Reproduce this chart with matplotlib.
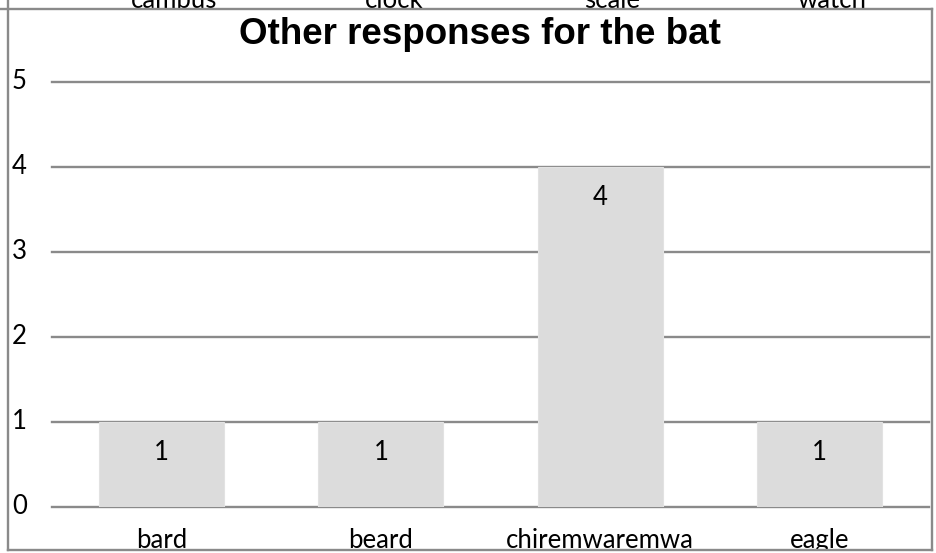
import matplotlib
matplotlib.use("Agg")
import matplotlib.pyplot as plt
from matplotlib.patches import Rectangle
from matplotlib.lines import Line2D
from matplotlib import transforms

# Chart data
categories = ["bard", "beard", "chiremwaremwa", "eagle"]
counts = [1, 1, 4, 1]
y_ticks = [0, 1, 2, 3, 4, 5]
title = "Other responses for the bat"
# Category labels of the chart above this one, partly visible at the top edge
prev_categories = ["cambus", "clock", "scale", "watch"]

W, H = 936, 553
DPI = 100
fig = plt.figure(figsize=(W / DPI, H / DPI), dpi=DPI)
fig.patch.set_facecolor("white")

def fx(px):
    return px / W

def fy(py):
    return 1 - py / H

GRID = "#8a8a8a"
BAR = "#dcdcdc"
LABEL_FONT = ["Lato", "DejaVu Sans"]
LABEL_SIZE = 18.5

# Plot area
ax_left, ax_right, ax_top, ax_bottom = 52, 929, 81.7, 506.7
ax = fig.add_axes([fx(ax_left), fy(ax_bottom), (ax_right - ax_left) / W,
                   (ax_bottom - ax_top) / H])
ax.set_xlim(-0.5, len(categories) - 0.5)
ax.set_ylim(0, 5)
ax.axis("off")

for t in y_ticks:
    ax.axhline(t, color=GRID, lw=1.7, zorder=1, clip_on=False)

x = list(range(len(categories)))
ax.bar(x, counts, width=0.57, color=BAR, edgecolor="#e2e2e2", lw=0.8, zorder=2)

for xi, v in zip(x, counts):
    ax.annotate(str(v), (xi, v), xytext=(0, -22.5), textcoords="offset points",
                ha="center", va="center", fontsize=LABEL_SIZE, family=LABEL_FONT,
                color="black", zorder=3)

# Y tick labels at the left edge of the frame
ytrans = transforms.blended_transform_factory(fig.transFigure, ax.transData)
for t in y_ticks:
    fig.text(fx(12), t, str(t), transform=ytrans, ha="left", va="center",
             fontsize=LABEL_SIZE, family=LABEL_FONT, color="black")

# Category labels below the axis, cut by the frame
xtrans = transforms.blended_transform_factory(ax.transData, fig.transFigure)
for xi, c in zip(x, categories):
    fig.text(xi, fy(548), c, transform=xtrans, ha="center", va="baseline",
             fontsize=LABEL_SIZE, family=LABEL_FONT, color="black")

# Previous chart's labels along the top edge
for cx, c in zip([174, 394, 612, 832], prev_categories):
    fig.text(fx(cx), fy(8.5), c, ha="center", va="baseline",
             fontsize=LABEL_SIZE, family=LABEL_FONT, color="black")

fig.text(fx(480), fy(35), title, ha="center", va="center", fontsize=26.5,
         fontweight="bold", family=["Liberation Sans", "DejaVu Sans"], color="black")

# White margin below the frame, then the frame itself
fig.add_artist(Rectangle((0, 0), 1, fy(551), transform=fig.transFigure,
                         facecolor="white", edgecolor="none", zorder=20))
frame_kw = dict(color=GRID, lw=1.7, transform=fig.transFigure, zorder=21)
fig.add_artist(Line2D([fx(0), fx(932)], [fy(9), fy(9)], **frame_kw))
fig.add_artist(Line2D([fx(8), fx(932)], [fy(550), fy(550)], **frame_kw))
fig.add_artist(Line2D([fx(8), fx(8)], [fy(0), fy(550)], **frame_kw))
fig.add_artist(Line2D([fx(932), fx(932)], [fy(9), fy(550)], **frame_kw))

fig.savefig("out.png", dpi=DPI, facecolor="white")
